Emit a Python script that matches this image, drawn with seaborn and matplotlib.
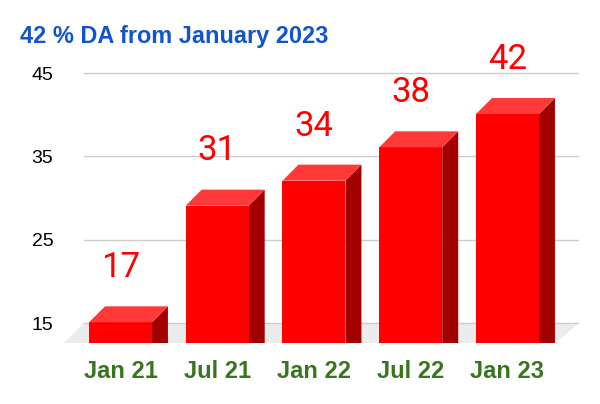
import matplotlib
matplotlib.use("Agg")
import matplotlib.pyplot as plt
from matplotlib.patches import Polygon
import pandas as pd
import seaborn as sns


periods = ["Jan 21", "Jul 21", "Jan 22", "Jul 22", "Jan 23"]
da_values = [17, 31, 34, 38, 42]
y_ticks = [15, 25, 35, 45]

FRONT = "#ff0000"
TOP = "#ff3838"
SIDE = "#a30000"
FLOOR = "#ececec"

# 3D look: depth of the bars in data units
DX = 0.165
DY = 1.92
FLOOR_BACK = 15
FLOOR_FRONT = 12.6


def main():
    sns.set_theme(style="white")
    plt.rcParams["font.family"] = ["Liberation Sans", "DejaVu Sans"]

    df = pd.DataFrame({"period": periods, "value": da_values})
    df["front"] = df["value"] - DY

    fig = plt.figure(figsize=(6.0, 4.04), dpi=100)
    ax = fig.add_axes([84 / 600, 61 / 404, 495 / 600, 313 / 404])

    sns.barplot(data=df, x="period", y="front", color=FRONT, saturation=1,
                width=0.651, ax=ax, zorder=3, linewidth=0)

    ax.set_xlim(-0.377, 4.739)
    ax.set_ylim(FLOOR_FRONT, 50.16)

    # floor
    floor = Polygon([(-0.584, FLOOR_FRONT), (4.491, FLOOR_FRONT),
                     (4.739, FLOOR_BACK), (-0.377, FLOOR_BACK)],
                    closed=True, facecolor=FLOOR, edgecolor="none",
                    zorder=0.5, clip_on=False)
    ax.add_patch(floor)

    # grid on the back wall
    for t in y_ticks:
        ax.axhline(t, color="#cccccc", linewidth=1, zorder=1)

    for patch, val in zip(ax.patches, df["value"]):
        x0 = patch.get_x()
        w = patch.get_width()
        top = patch.get_height()
        side = Polygon([(x0 + w, FLOOR_FRONT), (x0 + w, top),
                        (x0 + w + DX, top + DY), (x0 + w + DX, FLOOR_FRONT)],
                       closed=True, facecolor=SIDE, edgecolor="none", zorder=2.9)
        lid = Polygon([(x0, top), (x0 + w, top), (x0 + w + DX, top + DY),
                       (x0 + DX, top + DY)],
                      closed=True, facecolor=TOP, edgecolor="none", zorder=3)
        ax.add_patch(side)
        ax.add_patch(lid)
        ax.text(x0 + w / 2, val + 3.5, f"{val}", ha="center", va="baseline",
                color="#ff0000", fontsize=25, family=["Roboto", "DejaVu Sans"])

    ax.set_yticks(y_ticks)
    ax.set_yticklabels([str(t) for t in y_ticks], fontsize=14, color="#000000")
    ax.tick_params(axis="y", length=0, pad=22)
    ax.tick_params(axis="x", length=0, pad=12)
    for lbl in ax.get_xticklabels():
        lbl.set_fontsize(17)
        lbl.set_fontweight("bold")
        lbl.set_color("#38761d")
    ax.set_xlabel("")
    ax.set_ylabel("")
    for s in ax.spines.values():
        s.set_visible(False)

    fig.text(20 / 600, 1 - 43 / 404, "42 % DA from January 2023", ha="left",
             va="baseline", fontsize=16.9, fontweight="bold", color="#1155cc")

    fig.savefig("out.png", dpi=100)


if __name__ == "__main__":
    main()
